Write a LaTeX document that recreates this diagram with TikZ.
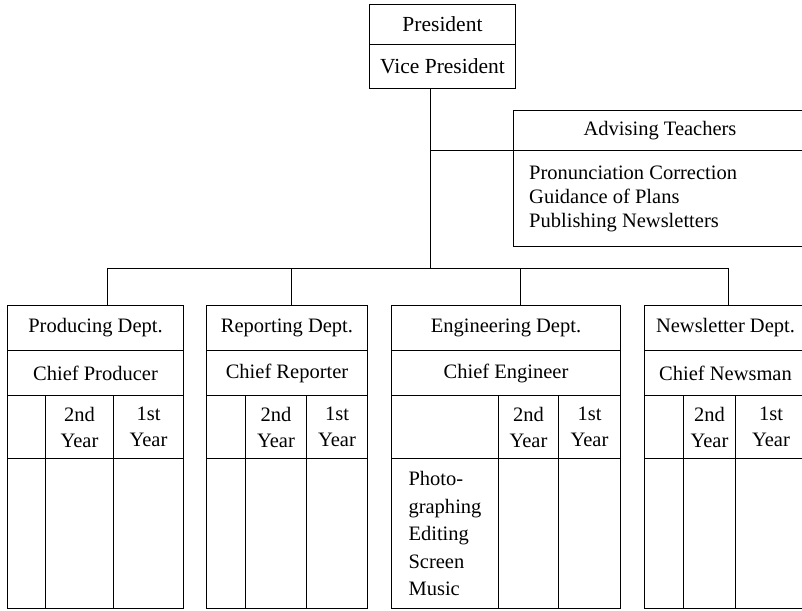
\documentclass[tikz,border=0pt]{standalone}
\usepackage{fontspec}
\setmainfont{Liberation Serif}
\tikzset{
  cell/.style={draw, rectangle, inner sep=0pt, anchor=north west, line width=1pt,
    font=\fontsize{20.5}{26}\selectfont, align=center},
  topcell/.style={cell, font=\fontsize{21.5}{26}\selectfont},
  link/.style={line width=1pt},
}
\newcommand\deptbox[8]{%
  \pgfmathsetmacro\wA{#5-#2}%
  \pgfmathsetmacro\wB{#3-#2}%
  \pgfmathsetmacro\wC{#4-#3}%
  \pgfmathsetmacro\wD{#5-#4}%
  \node[cell, minimum width=\wA pt, minimum height=45pt] (#1t) at (#2,305) {#6};
  \node[cell, minimum width=\wA pt, minimum height=45pt] (#1c) at (#2,350) {#7};
  \node[cell, minimum width=\wB pt, minimum height=63pt] (#1ha) at (#2,395) {};
  \node[cell, minimum width=\wC pt, minimum height=63pt] (#1hb) at (#3,395) {2nd\\Year};
  \node[cell, minimum width=\wD pt, minimum height=63pt] (#1hc) at (#4,395) {1st\\Year};
  \node[cell, minimum width=\wB pt, minimum height=150pt, font=\fontsize{20.5}{27.5}\selectfont, align=left] (#1ba) at (#2,458) {#8};
  \node[cell, minimum width=\wC pt, minimum height=150pt] (#1bb) at (#3,458) {};
  \node[cell, minimum width=\wD pt, minimum height=150pt] (#1bc) at (#4,458) {};
}
\begin{document}
\begin{tikzpicture}[x=1pt,y=-1pt]
\useasboundingbox (0,0) rectangle (802,610);
\clip (0,0) rectangle (802,610);
% top box
\node[topcell, minimum width=146pt, minimum height=40pt] (pres) at (369,4) {President};
\node[topcell, minimum width=146pt, minimum height=44pt] (vp) at (369,44) {Vice President};
% advising
\node[cell, minimum width=293pt, minimum height=40pt] (adv) at (513,110) {Advising Teachers};
\node[cell, minimum width=293pt, minimum height=96pt] (advb) at (513,150) {};
\node[anchor=west, inner sep=0pt, align=left, font=\fontsize{20.5}{24}\selectfont] (advt) at ([xshift=16pt]advb.west) {Pronunciation Correction\\Guidance of Plans\\Publishing Newsletters};
% departments
\deptbox{p}{7}{45}{113}{183}{Producing Dept.}{Chief Producer}{}
\deptbox{r}{206}{245}{306}{367}{Reporting Dept.}{Chief Reporter}{}
\deptbox{e}{391}{498}{558}{620}{Engineering Dept.}{Chief Engineer}{Photo-\\graphing\\Editing\\Screen\\Music}
\deptbox{n}{644}{683}{735}{806}{Newsletter Dept.}{Chief Newsman}{}
% connectors
\coordinate (trk) at (430,88);
\coordinate (j1) at (430,150);
\coordinate (bus) at (430,268);
\coordinate (pk) at (107,305);
\coordinate (rk) at (291,305);
\coordinate (ek) at (520,305);
\coordinate (nk) at (728,305);
\draw[link] (trk) -- (bus);
\draw[link] (j1) -- (j1 -| advb.west);
\draw[link] (pk) -- (pk |- bus) -- (nk |- bus) -- (nk);
\draw[link] (rk) -- (rk |- bus);
\draw[link] (ek) -- (ek |- bus);
\end{tikzpicture}
\end{document}
